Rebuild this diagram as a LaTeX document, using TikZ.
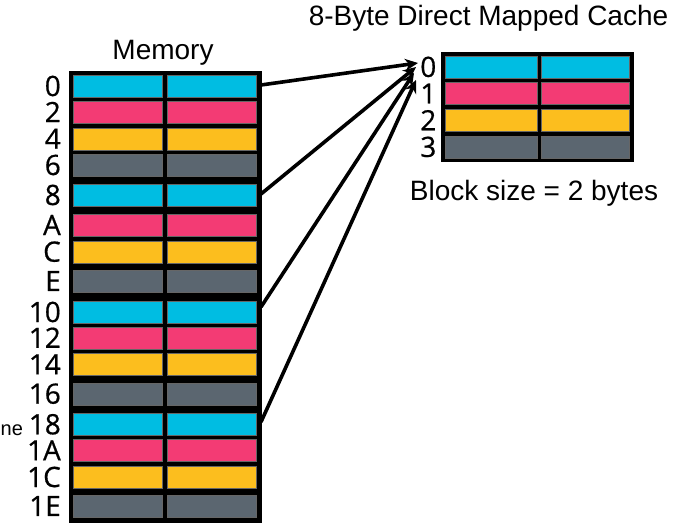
\documentclass[tikz,border=0pt]{standalone}
\usepackage{fontspec}
\setmainfont{Liberation Sans}
\newfontfamily\labfont[FakeBold=0.6]{Open Sans}
\usetikzlibrary{arrows.meta}
\definecolor{ccyan}{RGB}{0,189,226}
\definecolor{cpink}{RGB}{243,59,116}
\definecolor{cyell}{RGB}{252,190,30}
\definecolor{cgray}{RGB}{91,102,112}
\begin{document}
\begin{tikzpicture}[x=1pt,y=-1pt,
  cell/.style={draw=black!60,line width=0.5pt,inner sep=0,minimum height=22pt,anchor=north west},
  frame/.style={fill=black,inner sep=0,anchor=north west},
  lab/.style={font=\labfont\fontsize{28}{30}\selectfont,inner sep=0,anchor=east},
  ttl/.style={font=\fontsize{28}{32}\selectfont,inner sep=0,anchor=base},
  arr/.style={line width=3.6pt,-{Stealth[length=13pt,width=12pt]}}]
\useasboundingbox (0,0) rectangle (696,526);
% memory
\node[frame,minimum width=192.5pt,minimum height=452pt] (mem) at (69,70.5) {};
\foreach \i/\t/\c/\l in {0/75/ccyan/0,1/101/cpink/2,2/127.7/cyell/4,3/154/cgray/6,
  4/184/ccyan/8,5/214/cpink/A,6/240.7/cyell/C,7/270/cgray/E,
  8/301/ccyan/10,9/326.7/cpink/12,10/353.3/cyell/14,11/382.7/cgray/16,
  12/413.3/ccyan/18,13/439.3/cpink/1A,14/466/cyell/1C,15/495/cgray/1E}{
  \node[cell,fill=\c,minimum width=89.3pt] (mL\i) at (73,\t) {};
  \node[cell,fill=\c,minimum width=89pt] (mR\i) at (166.7,\t) {};
  \node[lab] (ml\i) at (61,\t+11) {\l};
}
\node[ttl] (memtitle) at (163,59.3) {Memory};
% cache
\node[frame,minimum width=192.3pt,minimum height=110pt] (cache) at (441,51.7) {};
\foreach \i/\t/\c in {0/55.7/ccyan,1/82.3/cpink,2/109/cyell,3/135.7/cgray}{
  \node[cell,fill=\c,minimum width=91.7pt] (cL\i) at (445,\t) {};
  \node[cell,fill=\c,minimum width=88.6pt] (cR\i) at (540.7,\t) {};
  \node[lab] (cl\i) at (436.5,\t+11.2) {\i};
}
\node[ttl] (title) at (488.5,26) {8-Byte Direct Mapped Cache};
\node[ttl] (block) at (534,200.7) {Block size = 2 bytes};
% text at left edge
\node[font=\fontsize{20}{24}\selectfont,inner sep=0,anchor=base west] (cut) at (0.5,435) {ne};
% arrows
\coordinate (s0) at (261,85);
\coordinate (s1) at (261,194);
\coordinate (s2) at (261,307);
\coordinate (s3) at (261,422);
\coordinate (e0) at (418,63);
\coordinate (e1) at (416,67);
\coordinate (e2) at (414,73);
\coordinate (e3) at (416,80);
\draw[arr] (s0) -- (e0);
\draw[arr] (s1) -- (e1);
\draw[arr] (s2) -- (e2);
\draw[arr] (s3) -- (e3);
\end{tikzpicture}
\end{document}
